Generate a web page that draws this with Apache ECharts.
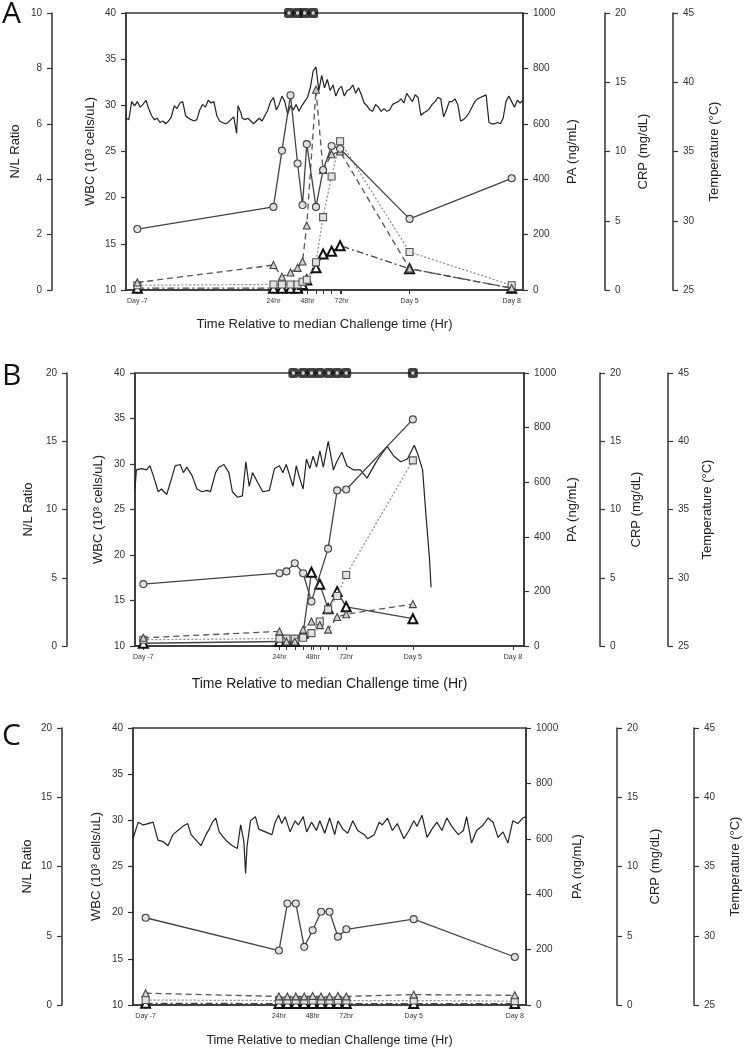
<!DOCTYPE html>
<html><head><meta charset="utf-8">
<script src="https://cdn.jsdelivr.net/npm/echarts@6/dist/echarts.min.js"></script>
<style>html,body{margin:0;padding:0;background:#fff}#c{width:750px;height:1050px}</style>
</head><body><div id="c"></div>
<script>
// ---------- DATA ----------
const xTickLabels = ['Day -7', '24hr', '48hr', '72hr', 'Day 5', 'Day 8'];
const xTickHours = [24, 48, 72, 120, 192]; // Day -7 position = first sample of each panel

// Panel A
const timesA = [-72, 24, 30, 36, 41, 44.5, 47.5, 54, 59, 65, 71, 120, 192];
const wbcA = [16.6, 19.0, 25.1, 31.1, 23.7, 19.2, 25.8, 19.0, 23.0, 25.6, 25.3, 17.7, 22.1];
const nlA  = [0.27, 0.9, 0.48, 0.63, 0.8, 1.03, 2.33, 7.23, 4.33, 4.9, 5.0, 0.77, 0.07];
const paA  = [17, 20, 20, 20, 20, 30, 37, 100, 263, 410, 537, 137, 17];
const crpA = [0.13, 0.13, 0.13, 0.13, 0.13, 0.4, 0.73, 1.6, 2.6, 2.8, 3.2, 1.53, 0.13];
const markA = [35, 41, 46, 52];
const tempA = [[-80,37.4],[-78,37.3],[-76,38.6],[-74,38.3],[-72,38.6],[-70,38.2],[-68,38.4],[-66,38.7],[-64,38.1],[-62,37.6],[-60,37.3],[-58,37.4],[-56,37.1],[-54,37.2],[-52,37.0],[-50,37.2],[-48,37.5],[-46,38.3],[-44,38.1],[-42,38.5],[-40,38.6],[-38,37.6],[-36,37.4],[-34,37.3],[-32,37.2],[-30,37.3],[-28,38.0],[-26,38.4],[-24,38.2],[-22,38.7],[-20,38.5],[-18,38.6],[-16,37.6],[-14,37.2],[-12,37.1],[-10,37.0],[-8,37.1],[-6,37.3],[-4,37.5],[-2,36.3],[-1,38.3],[1,37.8],[2,37.4],[4,37.3],[6,37.4],[8,37.2],[10,37.0],[12,37.2],[14,37.4],[16,37.2],[18,37.6],[20,38.0],[22,38.6],[24,38.9],[26,38.0],[28,38.4],[30,39.0],[32,38.6],[34,37.7],[36,38.3],[38,38.0],[40,38.4],[42,37.9],[44,38.3],[46,38.6],[48,38.9],[50,39.6],[52,40.8],[54,41.1],[56,39.4],[58,40.5],[60,39.6],[62,40.2],[64,39.4],[66,39.8],[68,39.0],[70,39.5],[72,39.7],[74,39.0],[76,39.4],[78,39.5],[80,39.8],[82,39.2],[84,39.6],[86,39.1],[88,38.5],[90,38.3],[92,38.0],[94,37.9],[96,38.4],[98,38.2],[100,37.9],[102,38.1],[104,37.9],[106,38.0],[108,38.4],[110,38.5],[112,38.6],[114,38.8],[116,38.5],[118,39.2],[120,38.9],[122,38.6],[124,39.1],[126,38.9],[128,37.6],[130,37.8],[132,37.9],[134,38.1],[136,38.4],[138,38.6],[140,38.9],[142,38.8],[144,37.5],[146,38.0],[148,38.6],[150,38.6],[152,38.8],[154,38.4],[156,37.2],[158,37.3],[160,37.5],[162,37.8],[164,38.2],[166,38.6],[168,38.8],[170,38.9],[172,39.0],[174,39.1],[176,37.1],[178,37.0],[180,37.0],[182,37.1],[184,37.0],[186,37.4],[188,38.6],[190,39.0],[192,38.6],[194,38.2],[196,38.7],[198,38.5],[200,38.7]];

// Panel B
const timesB = [-74, 24, 29, 35, 41, 47, 53, 59, 65.5, 72, 120];
const wbcB = [16.8, 18.0, 18.2, 19.1, 18.0, 14.9, null, 20.7, 27.1, 27.2, 34.9];
const nlB  = [0.6, 1.07, 0.33, 0.33, 1.2, 1.8, 1.53, 1.2, 2.13, 2.33, 3.07];
const paB  = [23, 27, 27, 27, 30, 47, 90, 134, 183, 260, 680];
const crpB = [0.2, 0.33, 0.33, 0.33, 0.93, 5.4, 4.53, 2.73, 4.0, 2.87, 2.0];
const markB = [34, 41, 47, 53, 59.5, 65.5, 72, 120];
const tempB = [[-80,36.5],[-79,37.9],[-75.4,38.0],[-71.8,37.9],[-69.3,38.2],[-66.9,37.5],[-63.3,36.3],[-60.9,36.5],[-57.2,36.1],[-53.6,37.3],[-51.1,38.2],[-47.5,38.3],[-45.1,37.7],[-42.7,38.1],[-39,37.5],[-35.4,36.5],[-31.8,36.3],[-28.1,36.4],[-25.7,36.3],[-22,37.7],[-19.6,38.1],[-16,38.3],[-12.4,37.7],[-9.9,36.3],[-6.3,35.9],[-2.7,36.0],[-0.2,38.5],[2.2,36.7],[4.6,37.7],[8.2,37.0],[11.9,36.3],[16.7,36.4],[20.4,38.0],[24,38.2],[26.4,37.7],[28.9,38.3],[31.3,37.5],[33.7,36.7],[36.1,38.2],[38.5,37.3],[41,36.5],[43.4,38.7],[45.8,38.0],[48.2,38.9],[50.7,38.1],[53.1,39.3],[55.5,38.1],[59.1,40.0],[62.8,37.9],[65.2,38.5],[68.9,39.2],[72.5,38.2],[77.3,37.9],[82.2,37.9],[87,37.3],[94.3,38.6],[99.1,39.3],[101.6,39.6],[106.4,38.9],[111.3,38.5],[116.1,38.7],[121,39.7],[123.4,39.1],[127,37.9],[129.5,34.5],[131.9,31.5],[133.1,29.3]];

// Panel C
const timesC = [-71, 24, 30, 36, 42, 48, 54, 60, 66, 72, 120, 192];
const wbcC = [19.45, 15.9, 21.0, 21.0, 16.3, 18.1, 20.1, 20.1, 17.4, 18.2, 19.3, 15.2];
const nlC  = [0.85, 0.62, 0.62, 0.62, 0.62, 0.65, 0.62, 0.62, 0.65, 0.62, 0.75, 0.7];
const paC  = [18, 16, 16, 16, 16, 16, 16, 16, 16, 16, 16, 14];
const crpC = [0.12, 0.1, 0.1, 0.1, 0.1, 0.1, 0.1, 0.1, 0.1, 0.1, 0.1, 0.1];
const markC = [];
const tempC = [[-80,37.0],[-76.3,38.2],[-72.7,38.0],[-69.2,38.1],[-65.7,38.2],[-62.2,36.9],[-58.6,36.8],[-55.1,36.5],[-51.6,37.3],[-48,37.6],[-44.5,37.9],[-41,38.1],[-38.6,37.3],[-35.1,36.9],[-31.6,36.5],[-28,37.3],[-25.7,37.7],[-23.4,38.2],[-21,38.5],[-18.6,37.5],[-13.9,36.9],[-9.2,36.5],[-5.7,36.3],[-3.3,38.0],[-1,36.8],[0.2,34.5],[1.3,36.5],[3.7,38.3],[7.2,38.6],[9.6,37.7],[14.3,37.5],[19,37.3],[21.3,38.2],[23.7,38.7],[26,38.1],[28.4,38.6],[31.9,37.5],[35.5,38.3],[37.8,38.0],[41.3,38.6],[43.7,37.5],[47.2,38.2],[50.7,37.6],[53.1,38.3],[56.6,37.4],[60.1,38.5],[63.7,37.3],[66,38.3],[69.5,37.7],[73,37.4],[76.6,38.3],[80.1,37.6],[84.8,37.3],[87.2,37.0],[91.9,37.3],[95.4,38.2],[97.7,38.0],[101.3,38.5],[104.8,37.6],[108.3,38.1],[113,37.0],[116.6,37.6],[120.1,38.3],[122.4,37.9],[125.9,38.7],[129.5,37.1],[133,37.7],[136.5,38.2],[140.1,37.6],[143.6,38.5],[147.1,37.9],[151.8,37.3],[155.4,37.6],[157.7,38.6],[161.2,36.7],[164.8,37.6],[169.5,38.0],[173,38.5],[176.5,38.2],[180.1,37.1],[183.6,37.5],[187.1,36.7],[190.6,38.3],[194.2,38.1],[197.7,38.5],[200,38.6]];

// ---------- LAYOUT / STYLE ----------
const FONT = 'Liberation Sans, Arial, sans-serif';
const AX = '#333';
const panels = [
  {letter:'A', letterY:14, times:timesA, wbc:wbcA, nl:nlA, pa:paA, crp:crpA, mark:markA, temp:tempA,
   grid:{left:126, top:13, width:397, height:277}, nlMax:10, nlInt:2, offNL:74, offCRP:82, offT:150,
   gaps:[30,29,43,32,35], xGap:28, xFont:13, crpLine:[7,3,2,3]},
  {letter:'B', letterY:376, times:timesB, wbc:wbcB, nl:nlB, pa:paB, crp:crpB, mark:markB, temp:tempB,
   grid:{left:135, top:373, width:389, height:273}, nlMax:20, nlInt:5, offNL:68, offCRP:76, offT:144,
   gaps:[32,30,42,30,33], xGap:31, xFont:14, crpLine:'solid'},
  {letter:'C', letterY:736, times:timesC, wbc:wbcC, nl:nlC, pa:paC, crp:crpC, mark:markC, temp:tempC,
   grid:{left:133, top:728, width:397, height:277}, nlMax:20, nlInt:5, offNL:71, offCRP:91, offT:168,
   gaps:[28,30,45,32,35], xGap:29, xFont:12.5, crpLine:[7,3,2,3]}
];

function zip(t, v) { return t.map((h, i) => [h, v[i]]); }

function yAx(gi, pos, offset, min, max, interval, name, gap) {
  return {
    gridIndex: gi, type: 'value', position: pos, offset, min, max, interval,
    name, nameLocation: 'middle', nameGap: gap, nameMoveOverlap: false,
    nameTextStyle: {fontSize: 13, color: '#222', fontFamily: FONT},
    axisLine: {show: true, onZero: false, lineStyle: {color: AX, width: 1.5}},
    axisTick: {show: true, length: 5, lineStyle: {color: AX, width: 1.2}},
    axisLabel: {fontSize: 10, color: '#333', margin: 10, fontFamily: FONT, formatter: v => String(v)},
    splitLine: {show: false}
  };
}

const option = {
  backgroundColor: '#fff', animation: false,
  grid: [], xAxis: [], yAxis: [], series: [], graphic: []
};

panels.forEach((p, gi) => {
  option.grid.push(Object.assign({show: true, borderColor: AX, borderWidth: 1.5, backgroundColor: 'transparent'}, p.grid));
  const labelVals = [p.times[0]].concat(xTickHours);
  const tickVals = Array.from(new Set(p.times.concat(labelVals))).sort((a, b) => a - b);
  option.xAxis.push({
    gridIndex: gi, type: 'value', min: -80, max: 200,
    name: 'Time Relative to median Challenge time (Hr)', nameLocation: 'middle', nameGap: p.xGap,
    nameMoveOverlap: false,
    nameTextStyle: {fontSize: p.xFont, color: '#222', fontFamily: FONT},
    axisLine: {onZero: false, lineStyle: {color: AX, width: 1.5}},
    axisTick: {show: true, customValues: tickVals, length: 4, lineStyle: {color: AX, width: 1}},
    axisLabel: {customValues: labelVals, fontSize: 7, color: '#333', margin: 8, fontFamily: FONT,
      formatter: v => { const i = labelVals.indexOf(v); return i >= 0 ? xTickLabels[i] : ''; }},
    splitLine: {show: false}
  });
  const b = option.yAxis.length;
  option.yAxis.push(
    yAx(gi, 'left', p.offNL, 0, p.nlMax, p.nlInt, 'N/L Ratio', p.gaps[0]),
    yAx(gi, 'left', 0, 10, 40, 5, 'WBC (10³ cells/uL)', p.gaps[1]),
    yAx(gi, 'right', 0, 0, 1000, 200, 'PA (ng/mL)', p.gaps[2]),
    yAx(gi, 'right', p.offCRP, 0, 20, 5, 'CRP (mg/dL)', p.gaps[3]),
    yAx(gi, 'right', p.offT, 25, 45, 5, 'Temperature (°C)', p.gaps[4])
  );
  const common = {type: 'line', xAxisIndex: gi, connectNulls: true, showSymbol: true};
  option.series.push(
    Object.assign({}, common, {name: 'Temp' + gi, yAxisIndex: b + 4, data: p.temp, showSymbol: false, symbol: 'none',
      lineStyle: {color: '#222', width: 1.2}, z: 2}),
    Object.assign({}, common, {name: 'CRP' + gi, yAxisIndex: b + 3, data: zip(p.times, p.crp),
      symbol: 'triangle', symbolSize: 9, lineStyle: {color: '#444', width: 1.3, type: p.crpLine},
      itemStyle: {color: '#fff', borderColor: '#111', borderWidth: 2}, z: 3}),
    Object.assign({}, common, {name: 'PA' + gi, yAxisIndex: b + 2, data: zip(p.times, p.pa),
      symbol: 'rect', symbolSize: 7, lineStyle: {color: '#888', width: 1.2, type: [2, 2]},
      itemStyle: {color: '#e2e2e2', borderColor: '#555', borderWidth: 1.1}, z: 4}),
    Object.assign({}, common, {name: 'NL' + gi, yAxisIndex: b + 0, data: zip(p.times, p.nl),
      symbol: 'triangle', symbolSize: 7, lineStyle: {color: '#555', width: 1.3, type: [6, 4]},
      itemStyle: {color: '#d0d0d0', borderColor: '#444', borderWidth: 1.1}, z: 5}),
    Object.assign({}, common, {name: 'WBC' + gi, yAxisIndex: b + 1, data: zip(p.times, p.wbc),
      symbol: 'circle', symbolSize: 7, lineStyle: {color: '#444', width: 1.3},
      itemStyle: {color: '#e0e0e0', borderColor: '#444', borderWidth: 1.1}, z: 6})
  );
  if (p.mark.length) {
    option.series.push(
      {type: 'scatter', xAxisIndex: gi, yAxisIndex: b + 1, clip: false, z: 8,
       data: p.mark.map(h => [h, 40]), symbol: 'roundRect', symbolSize: [10, 10],
       itemStyle: {color: '#111'}},
      {type: 'scatter', xAxisIndex: gi, yAxisIndex: b + 1, clip: false, z: 9,
       data: p.mark.map(h => [h, 40]), symbol: 'circle', symbolSize: 3.5,
       itemStyle: {color: '#fff'}}
    );
  }
  option.graphic.push({type: 'text', x: 2, y: p.letterY,
    style: {text: p.letter, fontSize: 30, fontFamily: 'Open Sans, sans-serif', fill: '#111',
            align: 'left', verticalAlign: 'middle'}});
});

const chart = echarts.init(document.getElementById('c'), null, {renderer: 'canvas'});
chart.setOption(option);
</script>
</body></html>
